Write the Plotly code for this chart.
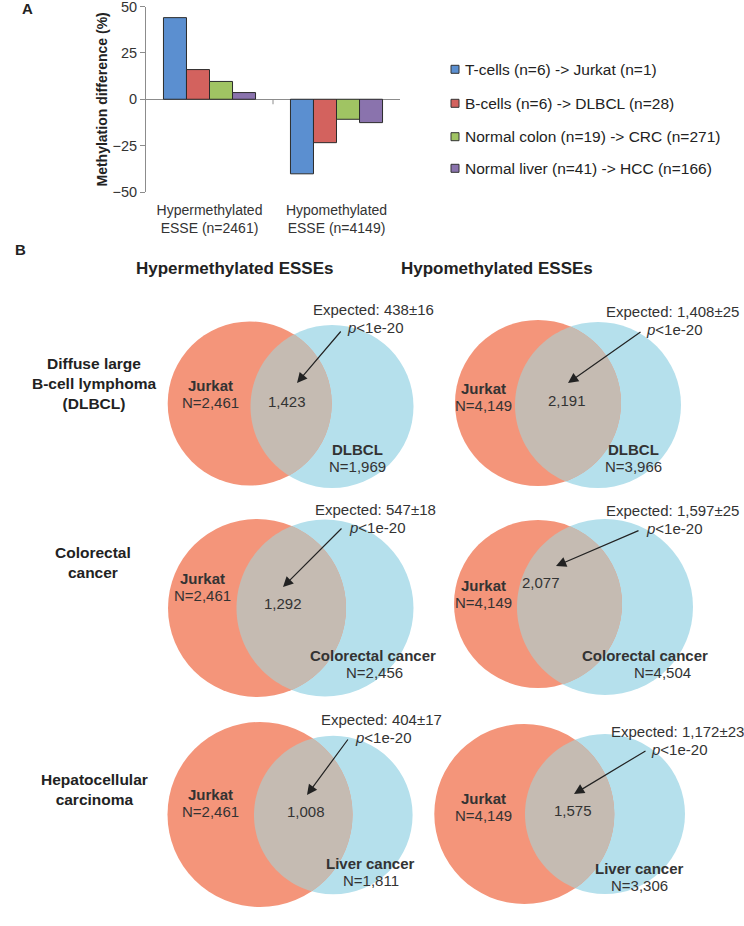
import numpy as np
import plotly.graph_objects as go

W, H = 744, 926

# ---------------- panel A data ----------------
groups = ["Hypermethylated<br>ESSE (n=2461)", "Hypomethylated<br>ESSE (n=4149)"]
series_names = ["T-cells (n=6) -> Jurkat (n=1)",
                "B-cells (n=6) -> DLBCL (n=28)",
                "Normal colon (n=19) -> CRC (n=271)",
                "Normal liver (n=41) -> HCC (n=166)"]
tcell_jurkat = [44.0, -40.2]
bcell_dlbcl = [16.0, -23.4]
colon_crc = [9.6, -10.8]
liver_hcc = [3.6, -12.6]
y_ticks = [-50, -25, 0, 25, 50]

# ---------------- panel B data ----------------
col_titles = ["Hypermethylated ESSEs", "Hypomethylated ESSEs"]
row_titles = ["Diffuse large<br>B-cell lymphoma<br>(DLBCL)",
              "Colorectal<br>cancer",
              "Hepatocellular<br>carcinoma"]
jurkat_n = [2461, 4149]
cancer_names = ["DLBCL", "Colorectal cancer", "Liver cancer"]
cancer_n_hyper = [1969, 2456, 1811]
cancer_n_hypo = [3966, 4504, 3306]
overlap_hyper = [1423, 1292, 1008]
overlap_hypo = [2191, 2077, 1575]
expected_hyper = ["438±16", "547±18", "404±17"]
expected_hypo = ["1,408±25", "1,597±25", "1,172±23"]

# colours
bar_colors = ["#5b8fd0", "#d3625e", "#a0c463", "#8a73ad"]
ORANGE = "#f4957a"
BLUE = "#b5e0ec"
LENS = "#c5bbb2"
TXT = "#333333"
FONT = "Liberation Sans, Arial, sans-serif"

# venn layout (pixels): left circle, right circle, label anchors
venn_geom = {
    (0, 0): dict(lc=(249.7, 403.5, 82), rc=(332, 406.5, 81.5), jur=(210, 385), ov=(287, 401),
                 can=(357, 449), canN=(357, 466), exp=(373, 309), tail=(342, 330), head=(297, 383)),
    (0, 1): dict(lc=(538, 403, 83), rc=(598, 405, 83), jur=(483, 388), ov=(567, 400),
                 can=(633, 449), canN=(633, 466), exp=(672, 311), tail=(642, 331), head=(568, 383)),
    (1, 0): dict(lc=(257, 608, 89), rc=(325, 608, 88.5), jur=(202, 578), ov=(283, 603),
                 can=(373, 655), canN=(374, 672), exp=(375, 509), tail=(343, 527), head=(283, 587)),
    (1, 1): dict(lc=(538, 604, 84), rc=(605, 607, 88), jur=(483, 585), ov=(541, 582),
                 can=(645, 655), canN=(662, 672), exp=(672, 510), tail=(640, 530), head=(556, 566)),
    (2, 0): dict(lc=(260, 814.5, 92.5), rc=(333.3, 815, 79.3), jur=(210, 794), ov=(306, 811.7),
                 can=(370, 863), canN=(371, 880), exp=(381, 719), tail=(349, 738), head=(307, 795)),
    (2, 1): dict(lc=(524.3, 814, 90), rc=(605, 814, 80), jur=(483, 798), ov=(573, 810),
                 can=(639, 868), canN=(639, 885), exp=(677, 731), tail=(647, 750), head=(574, 794)),
}


def lens_path(c1, c2, n=60):
    x1, y1, r1 = c1
    x2, y2, r2 = c2
    d = np.hypot(x2 - x1, y2 - y1)
    th = np.arctan2(y2 - y1, x2 - x1)
    a = (r1 ** 2 - r2 ** 2 + d ** 2) / (2 * d)
    a1 = np.arccos(a / r1)
    a2 = np.arccos((d - a) / r2)
    t1 = np.linspace(th - a1, th + a1, n)
    t2 = np.linspace(th + np.pi - a2, th + np.pi + a2, n)
    xs = np.concatenate([x1 + r1 * np.cos(t1), x2 + r2 * np.cos(t2)])
    ys = np.concatenate([y1 + r1 * np.sin(t1), y2 + r2 * np.sin(t2)])
    pts = " L ".join(f"{x:.2f},{y:.2f}" for x, y in zip(xs, ys))
    return "M " + pts + " Z"


fig = go.Figure()

series = [tcell_jurkat, bcell_dlbcl, colon_crc, liver_hcc]
for name, vals, col in zip(series_names, series, bar_colors):
    fig.add_trace(go.Bar(x=groups, y=vals, name=name, marker_color=col,
                         marker_line=dict(color="#2b2b2b", width=1), showlegend=False))

# dummy trace so the overlay (pixel) axes exist
fig.add_trace(go.Scatter(x=[], y=[], xaxis="x2", yaxis="y2", showlegend=False, hoverinfo="skip"))

shapes = []
annotations = []


def txt(x, y, text, size=15, bold=False, color=TXT, **kw):
    if bold:
        text = f"<b>{text}</b>"
    annotations.append(dict(x=x, y=y, xref="x2", yref="y2", text=text, showarrow=False,
                            font=dict(family=FONT, size=size, color=color), **kw))


# category boundary tick on the zero line
shapes.append(dict(type="line", xref="x", yref="y", x0=0.5, x1=0.5, y0=0, y1=-2.7,
                   line=dict(color="#8c8c8c", width=1)))

# legend (manual, to match the compact swatch/text spacing)
legend_y = [69.3, 103.3, 136.7, 168.3]
for name, col, ly in zip(series_names, bar_colors, legend_y):
    shapes.append(dict(type="rect", xref="x2", yref="y2", x0=451, x1=459, y0=ly - 4, y1=ly + 4,
                       fillcolor=col, line=dict(color="#333333", width=1)))
    txt(463, ly, name, size=15.5, color="#222222", xanchor="left")

# y axis title and panel letters
txt(101, 99.5, "Methylation difference (%)", size=14, bold=True, color="#222222", textangle=-90)
txt(27, 8, "A", size=15, bold=True, color="#222222")
txt(20, 249, "B", size=15, bold=True, color="#222222")

# column and row titles
for cx, t in zip([234, 497], col_titles):
    txt(cx, 268, t, size=17, bold=True, color="#222222")
for (rx, ry), t in zip([(94, 383), (93, 562), (94, 789)], row_titles):
    txt(rx, ry, t, size=15.5, bold=True, color="#222222")

# venn diagrams
for c in range(2):
    cn = cancer_n_hyper if c == 0 else cancer_n_hypo
    ov = overlap_hyper if c == 0 else overlap_hypo
    ex = expected_hyper if c == 0 else expected_hypo
    for r in range(3):
        g = venn_geom[(r, c)]
        for (cx, cy, rad), col in [(g["rc"], BLUE), (g["lc"], ORANGE)]:
            shapes.append(dict(type="circle", xref="x2", yref="y2", x0=cx - rad, x1=cx + rad,
                               y0=cy - rad, y1=cy + rad, fillcolor=col, line=dict(width=0)))
        shapes.append(dict(type="path", xref="x2", yref="y2", path=lens_path(g["lc"], g["rc"]),
                           fillcolor=LENS, line=dict(width=0)))
        jx, jy = g["jur"]
        txt(jx, jy, "Jurkat", bold=True)
        txt(jx, jy + 17, f"N={jurkat_n[c]:,}")
        txt(*g["ov"], f"{ov[r]:,}")
        txt(*g["can"], cancer_names[r], bold=True)
        txt(*g["canN"], f"N={cn[r]:,}")
        ex_x, ex_y = g["exp"]
        txt(ex_x, ex_y, f"Expected: {ex[r]}")
        txt(ex_x + 2, ex_y + 18, "<i>p</i>&lt;1e-20")
        hx, hy = g["head"]
        tx, ty = g["tail"]
        annotations.append(dict(x=hx, y=hy, ax=tx, ay=ty, xref="x2", yref="y2", axref="x2", ayref="y2",
                                text="", showarrow=True, arrowhead=2, arrowsize=1.7, arrowwidth=1.2,
                                arrowcolor="#222222", standoff=0, startstandoff=0))

fig.update_layout(
    template="none",
    width=W, height=H,
    margin=dict(l=0, r=0, t=0, b=0, autoexpand=False),
    paper_bgcolor="white", plot_bgcolor="rgba(0,0,0,0)",
    barmode="group", bargap=0.275, bargroupgap=0,
    font=dict(family=FONT, color=TXT),
    xaxis=dict(domain=[146 / W, 400 / W], range=[-0.5, 1.5], showline=False, showgrid=False,
               ticks="", tickfont=dict(size=14, color=TXT), ticklabelstandoff=8,
               zeroline=False, automargin=False),
    yaxis=dict(domain=[1 - 192 / H, 1 - 6.5 / H], range=[-50, 50], tickvals=y_ticks,
               showgrid=False, showline=True, linecolor="#8c8c8c", linewidth=1,
               ticks="outside", ticklen=5, tickcolor="#8c8c8c", ticklabeloverflow="allow",
               zeroline=True, zerolinecolor="#8c8c8c", zerolinewidth=1, automargin=False,
               tickfont=dict(size=14.5, color=TXT)),
    xaxis2=dict(domain=[0, 1], range=[0, W], visible=False, anchor="y2", automargin=False),
    yaxis2=dict(domain=[0, 1], range=[H, 0], visible=False, anchor="x2", automargin=False),
    shapes=shapes, annotations=annotations,
    showlegend=False,
)

# the page's default body margin would shift the figure by 8px; remove it
fig.write_html("out.html", config={"displayModeBar": False},
               post_script="document.body.style.margin='0';")
